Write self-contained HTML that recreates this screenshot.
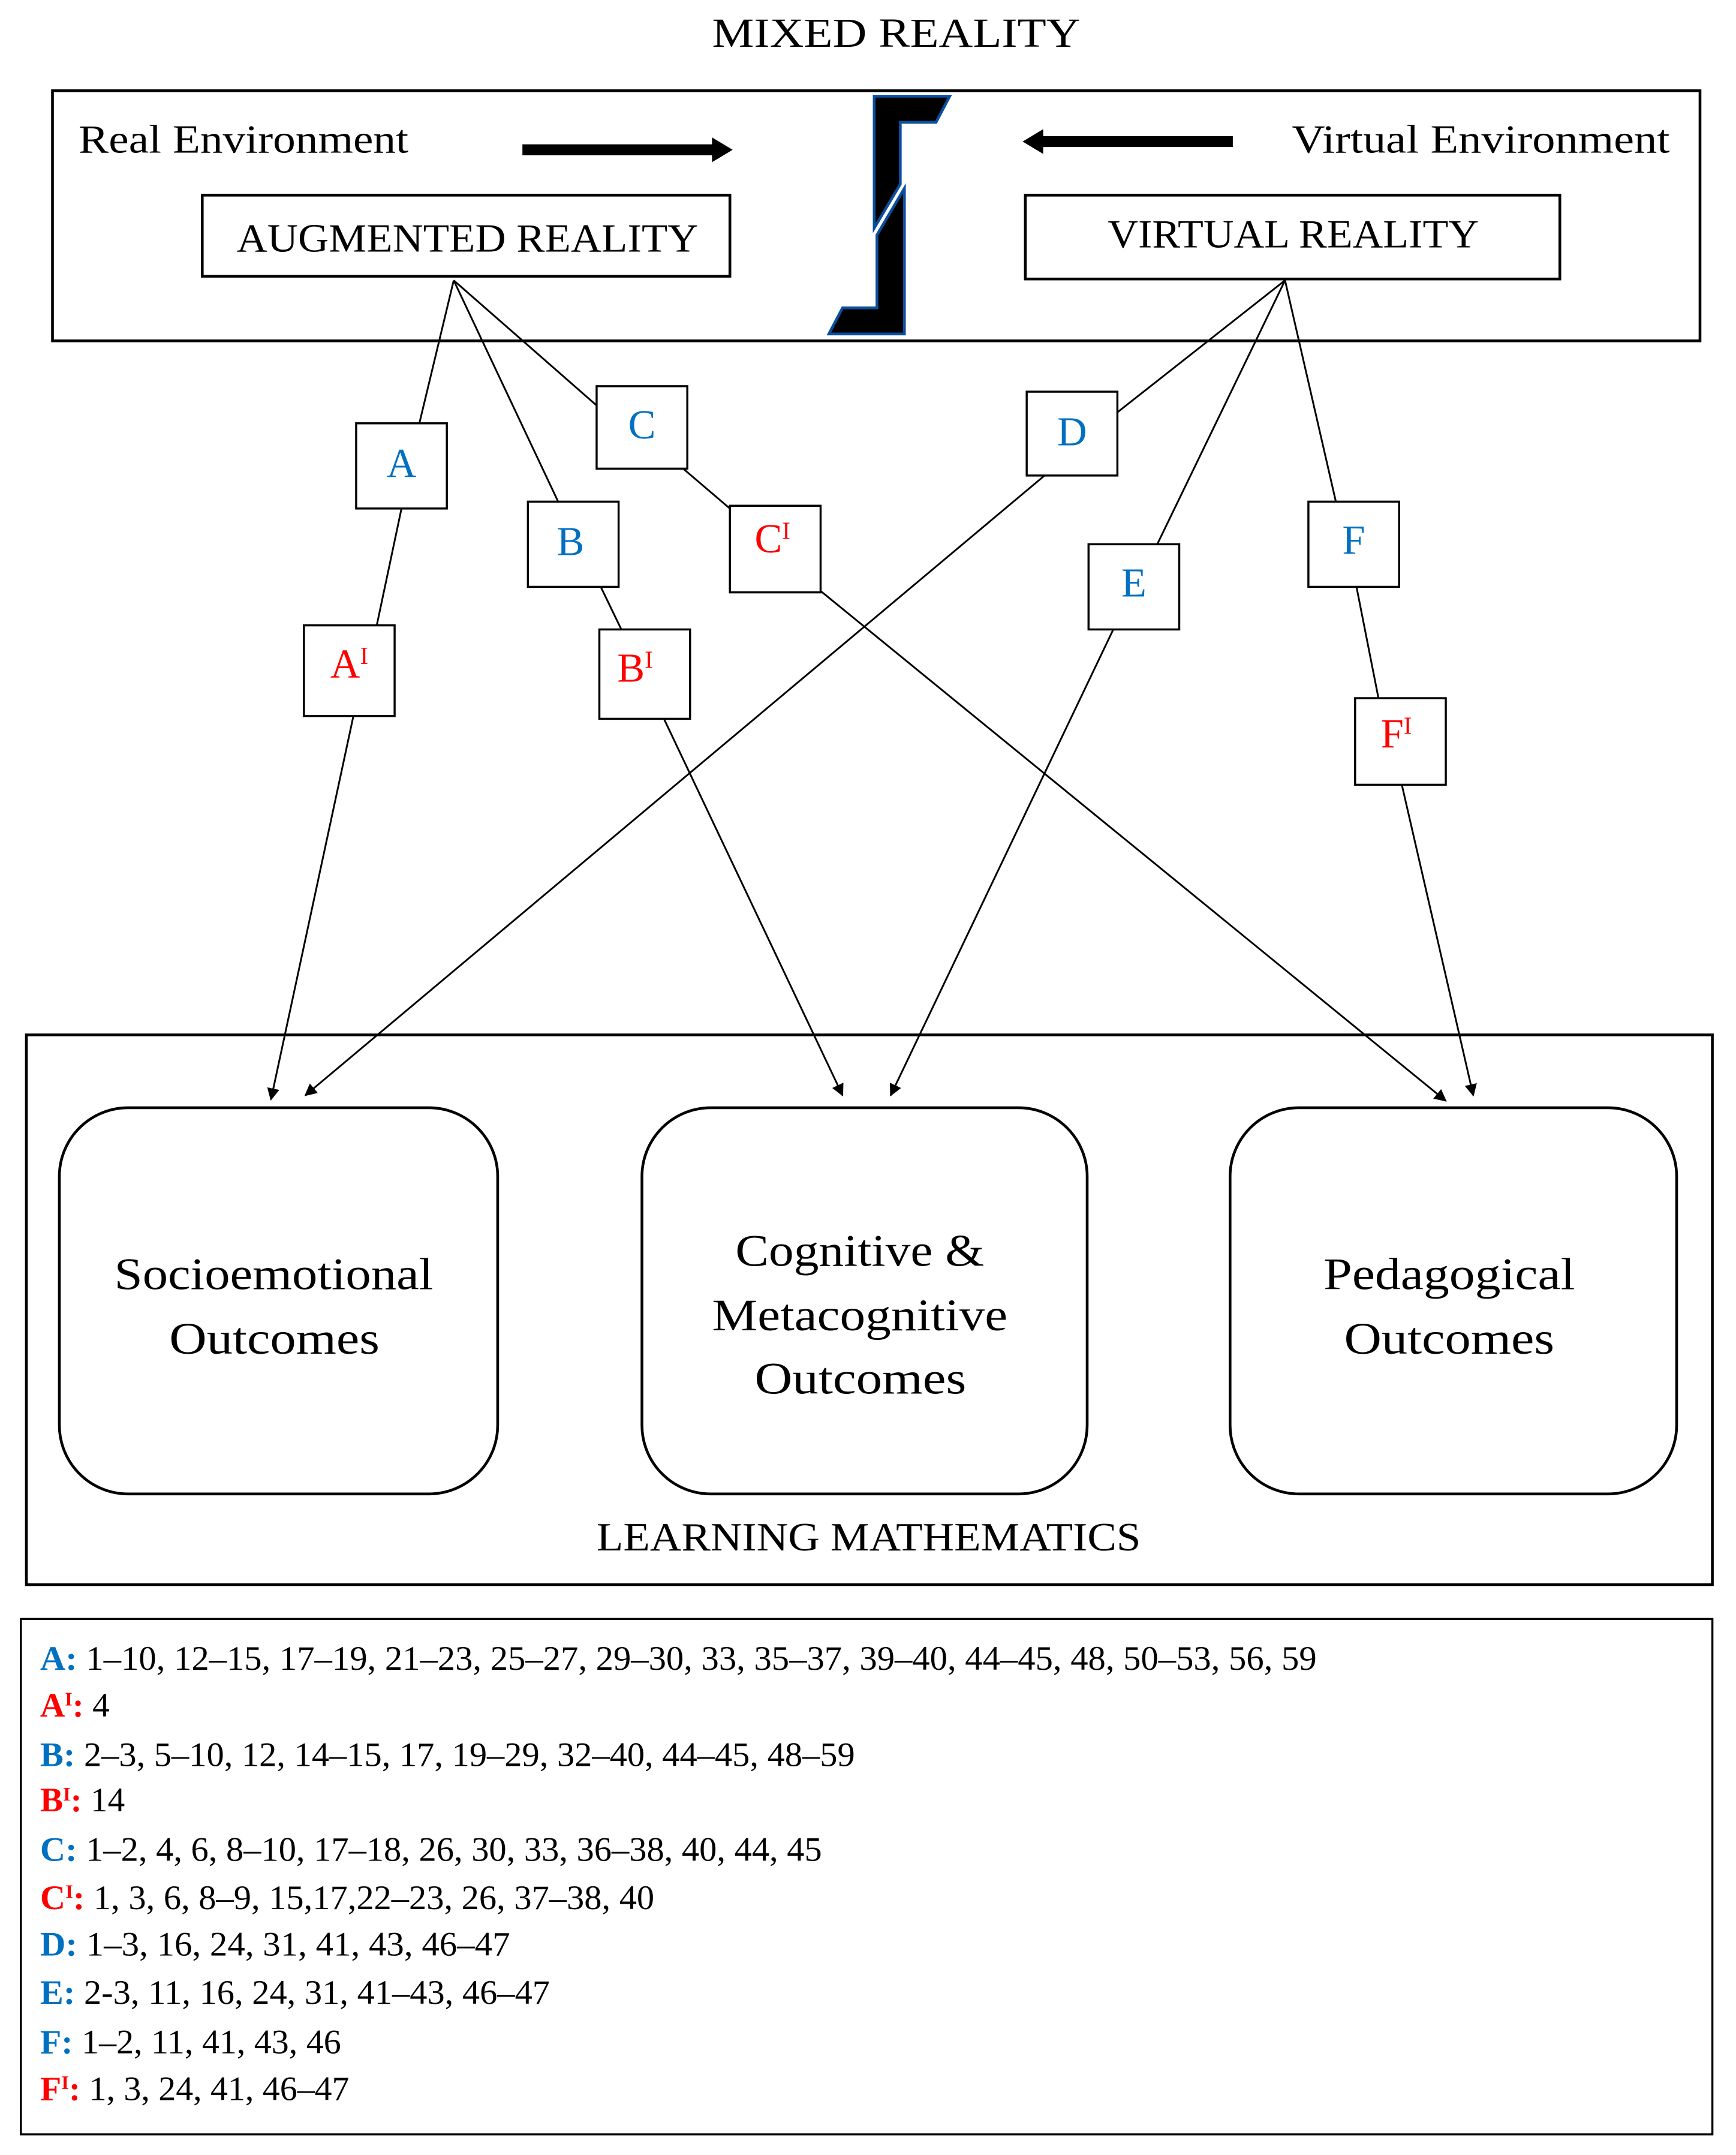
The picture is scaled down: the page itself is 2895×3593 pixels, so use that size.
<!DOCTYPE html>
<html><head><meta charset="utf-8"><style>html,body{margin:0;padding:0;background:#fff}svg{display:block}</style></head>
<body>
<svg width="2895" height="3593" viewBox="0 0 1263 1568" xmlns="http://www.w3.org/2000/svg" font-family="Liberation Serif, serif">
<defs>
<marker id="ah" viewBox="0 0 10 10" refX="9" refY="5" markerWidth="9" markerHeight="9" markerUnits="userSpaceOnUse" orient="auto"><path d="M0,0 L10,5 L0,10 z" fill="#000"/></marker>
</defs>
<rect width="1263" height="1568" fill="#fff"/>
<text x="518" y="34" font-size="30" textLength="268" lengthAdjust="spacingAndGlyphs">MIXED REALITY</text>
<rect x="38" y="66" width="1199" height="182" fill="none" stroke="#000" stroke-width="2"/>
<text x="57" y="111" font-size="29" textLength="240" lengthAdjust="spacingAndGlyphs">Real Environment</text>
<text x="940" y="111" font-size="29" textLength="275" lengthAdjust="spacingAndGlyphs">Virtual Environment</text>
<line x1="380" y1="109" x2="520" y2="109" stroke="#000" stroke-width="8"/>
<path d="M518,100 L533,109 L518,118 z"/>
<line x1="897" y1="103" x2="757" y2="103" stroke="#000" stroke-width="8"/>
<path d="M759,94 L744,103 L759,112 z"/>
<g fill="#000" stroke="#0a4f9e" stroke-width="2">
<path d="M636,70 L691,70 L681,89 L655,89 L655,134 L636,166 z"/>
<path d="M658,137 L658,243 L603,243 L613,224 L638,224 L638,171 z"/>
</g>
<rect x="147" y="142" width="384" height="59" fill="none" stroke="#000" stroke-width="2"/>
<text x="172" y="183" font-size="29" textLength="336" lengthAdjust="spacingAndGlyphs">AUGMENTED REALITY</text>
<rect x="746" y="142" width="389" height="61" fill="none" stroke="#000" stroke-width="2"/>
<text x="806" y="180" font-size="29" textLength="270" lengthAdjust="spacingAndGlyphs">VIRTUAL REALITY</text>
<g stroke="#000" stroke-width="1.3" fill="none">
<line x1="330" y1="204" x2="305" y2="308"/>
<line x1="292" y1="370" x2="274" y2="455"/>
<line x1="257" y1="521" x2="197" y2="800" marker-end="url(#ah)"/>
<line x1="330" y1="204" x2="406" y2="365"/>
<line x1="437" y1="427" x2="452" y2="458"/>
<line x1="483" y1="523" x2="613" y2="797" marker-end="url(#ah)"/>
<line x1="330" y1="204" x2="434" y2="295"/>
<line x1="497" y1="341" x2="531" y2="370"/>
<line x1="597" y1="430" x2="1052" y2="801" marker-end="url(#ah)"/>
<line x1="935" y1="204" x2="813" y2="300"/>
<line x1="760" y1="346" x2="222" y2="797" marker-end="url(#ah)"/>
<line x1="935" y1="204" x2="842" y2="396"/>
<line x1="810" y1="458" x2="648" y2="797" marker-end="url(#ah)"/>
<line x1="935" y1="204" x2="972" y2="365"/>
<line x1="987" y1="427" x2="1003" y2="508"/>
<line x1="1020" y1="571" x2="1072" y2="797" marker-end="url(#ah)"/>
</g>
<g fill="#fff" stroke="#000" stroke-width="1.5">
<rect x="259" y="308" width="66" height="62"/>
<rect x="221" y="455" width="66" height="66"/>
<rect x="384" y="365" width="66" height="62"/>
<rect x="436" y="458" width="66" height="65"/>
<rect x="434" y="281" width="66" height="60"/>
<rect x="531" y="368" width="66" height="63"/>
<rect x="747" y="285" width="66" height="61"/>
<rect x="792" y="396" width="66" height="62"/>
<rect x="952" y="365" width="66" height="62"/>
<rect x="986" y="508" width="66" height="63"/>
</g>
<g font-size="30" text-anchor="middle">
<text x="292" y="347" fill="#0070C0">A</text>
<text x="415" y="404" fill="#0070C0">B</text>
<text x="467" y="319" fill="#0070C0">C</text>
<text x="780" y="324" fill="#0070C0">D</text>
<text x="825" y="434" fill="#0070C0">E</text>
<text x="985" y="403" fill="#0070C0">F</text>
<text x="254" y="493" fill="#FF0000">A<tspan font-size="18" dy="-10">I</tspan></text>
<text x="462" y="496" fill="#FF0000">B<tspan font-size="18" dy="-10">I</tspan></text>
<text x="562" y="402" fill="#FF0000">C<tspan font-size="18" dy="-10">I</tspan></text>
<text x="1016" y="544" fill="#FF0000">F<tspan font-size="18" dy="-10">I</tspan></text>
</g>
<rect x="19" y="753" width="1227" height="400" fill="none" stroke="#000" stroke-width="2"/>
<g fill="none" stroke="#000" stroke-width="2">
<rect x="43" y="806" width="319" height="281" rx="50"/>
<rect x="467" y="806" width="324" height="281" rx="50"/>
<rect x="895" y="806" width="325" height="281" rx="50"/>
</g>
<g font-size="33" lengthAdjust="spacingAndGlyphs">
<text x="83" y="938" textLength="232" lengthAdjust="spacingAndGlyphs">Socioemotional</text>
<text x="123" y="985" textLength="153" lengthAdjust="spacingAndGlyphs">Outcomes</text>
<text x="535" y="921" textLength="181" lengthAdjust="spacingAndGlyphs">Cognitive &amp;</text>
<text x="518" y="968" textLength="215" lengthAdjust="spacingAndGlyphs">Metacognitive</text>
<text x="549" y="1014" textLength="154" lengthAdjust="spacingAndGlyphs">Outcomes</text>
<text x="963" y="938" textLength="183" lengthAdjust="spacingAndGlyphs">Pedagogical</text>
<text x="978" y="985" textLength="153" lengthAdjust="spacingAndGlyphs">Outcomes</text>
</g>
<text x="434" y="1128" font-size="29" textLength="396" lengthAdjust="spacingAndGlyphs">LEARNING MATHEMATICS</text>
<rect x="15" y="1178" width="1231" height="375" fill="none" stroke="#000" stroke-width="1.5"/>
<g font-size="25">
<text x="29" y="1215" textLength="929" lengthAdjust="spacingAndGlyphs"><tspan fill="#0070C0" font-weight="bold">A:</tspan> 1–10, 12–15, 17–19, 21–23, 25–27, 29–30, 33, 35–37, 39–40, 44–45, 48, 50–53, 56, 59</text>
<text x="29" y="1249"><tspan fill="#FF0000" font-weight="bold">A<tspan font-size="14" dy="-8">I</tspan><tspan dy="8">:</tspan></tspan> 4</text>
<text x="29" y="1285" textLength="593" lengthAdjust="spacingAndGlyphs"><tspan fill="#0070C0" font-weight="bold">B:</tspan> 2–3, 5–10, 12, 14–15, 17, 19–29, 32–40, 44–45, 48–59</text>
<text x="29" y="1318"><tspan fill="#FF0000" font-weight="bold">B<tspan font-size="14" dy="-8">I</tspan><tspan dy="8">:</tspan></tspan> 14</text>
<text x="29" y="1354" textLength="569" lengthAdjust="spacingAndGlyphs"><tspan fill="#0070C0" font-weight="bold">C:</tspan> 1–2, 4, 6, 8–10, 17–18, 26, 30, 33, 36–38, 40, 44, 45</text>
<text x="29" y="1389" textLength="447" lengthAdjust="spacingAndGlyphs"><tspan fill="#FF0000" font-weight="bold">C<tspan font-size="14" dy="-8">I</tspan><tspan dy="8">:</tspan></tspan> 1, 3, 6, 8–9, 15,17,22–23, 26, 37–38, 40</text>
<text x="29" y="1423" textLength="342" lengthAdjust="spacingAndGlyphs"><tspan fill="#0070C0" font-weight="bold">D:</tspan> 1–3, 16, 24, 31, 41, 43, 46–47</text>
<text x="29" y="1458" textLength="371" lengthAdjust="spacingAndGlyphs"><tspan fill="#0070C0" font-weight="bold">E:</tspan> 2-3, 11, 16, 24, 31, 41–43, 46–47</text>
<text x="29" y="1494" textLength="219" lengthAdjust="spacingAndGlyphs"><tspan fill="#0070C0" font-weight="bold">F:</tspan> 1–2, 11, 41, 43, 46</text>
<text x="29" y="1528" textLength="225" lengthAdjust="spacingAndGlyphs"><tspan fill="#FF0000" font-weight="bold">F<tspan font-size="14" dy="-8">I</tspan><tspan dy="8">:</tspan></tspan> 1, 3, 24, 41, 46–47</text>
</g>
</svg>
</body></html>
